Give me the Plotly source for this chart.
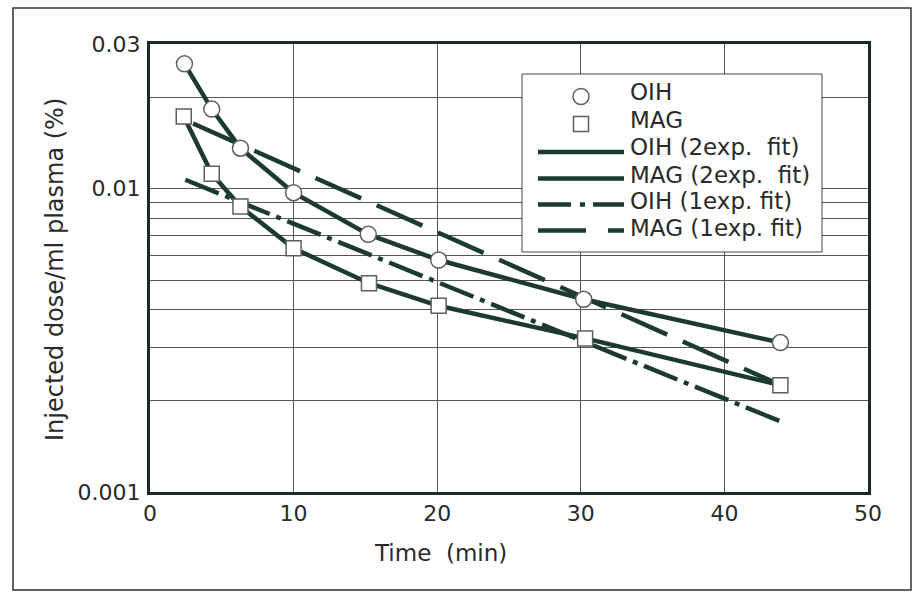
import plotly.graph_objects as go

# ---------------- data ----------------
time_oih = [2.4, 4.3, 6.3, 10.0, 15.2, 20.1, 30.2, 43.9]
oih_values = [0.0258, 0.0183, 0.0136, 0.0097, 0.00707, 0.00582, 0.00432, 0.00311]

time_mag = [2.35, 4.3, 6.3, 10.0, 15.25, 20.1, 30.3, 43.9]
mag_values = [0.0173, 0.0112, 0.00873, 0.00636, 0.00488, 0.00411, 0.00321, 0.00225]

# two-exponential fits (follow the measured points)
oih_2exp_time = [2.4, 4.3, 6.3, 10.0, 15.2, 20.1, 30.2, 43.9]
oih_2exp_fit = [0.0258, 0.0183, 0.0136, 0.0097, 0.00707, 0.00582, 0.00432, 0.00311]
mag_2exp_time = [2.35, 4.3, 6.3, 10.0, 15.25, 20.1, 30.3, 43.9]
mag_2exp_fit = [0.0173, 0.0112, 0.00873, 0.00636, 0.00488, 0.00411, 0.00321, 0.00225]

# one-exponential fits (straight lines on the log axis)
oih_1exp_time = [2.46, 43.9]
oih_1exp_fit = [0.0107, 0.00171]
mag_1exp_time = [3.0, 43.3]
mag_1exp_fit = [0.0164, 0.00232]

x_ticks = [0, 10, 20, 30, 40, 50]
y_grid = [0.001, 0.002, 0.003, 0.004, 0.005, 0.006, 0.007, 0.008, 0.009, 0.01, 0.02, 0.03]
y_tick_text = ["0.001", "", "", "", "", "", "", "", "", "0.01", "", "0.03"]

legend_labels = ["OIH", "MAG", "OIH (2exp.\u00a0 fit)", "MAG (2exp.\u00a0 fit)",
                 "OIH (1exp. fit)", "MAG (1exp. fit)"]

# ---------------- style ----------------
LINE = "#1c3a32"
AXIS = "#1a2b25"
GRID = "#555555"
MARK_EDGE = "#5e5e5e"
TEXT = "#2a2a2a"
FONT = "DejaVu Sans"

W, H = 917, 592
L, R, T, B = 150, 49, 44, 100
PW, PH = W - L - R, H - T - B


def px(x):
    return (x - L) / PW


def py(y):
    return (T + PH - y) / PH


fig = go.Figure()

fig.add_trace(go.Scatter(x=oih_2exp_time, y=oih_2exp_fit, mode="lines",
                         line=dict(color=LINE, width=4.5), name=legend_labels[2], showlegend=False))
fig.add_trace(go.Scatter(x=mag_2exp_time, y=mag_2exp_fit, mode="lines",
                         line=dict(color=LINE, width=4.5), name=legend_labels[3], showlegend=False))
fig.add_trace(go.Scatter(x=oih_1exp_time, y=oih_1exp_fit, mode="lines",
                         line=dict(color=LINE, width=4.5, dash="36px,7px,5px,7px"),
                         name=legend_labels[4], showlegend=False))
fig.add_trace(go.Scatter(x=mag_1exp_time, y=mag_1exp_fit, mode="lines",
                         line=dict(color=LINE, width=4.5, dash="50px,17px"),
                         name=legend_labels[5], showlegend=False))
fig.add_trace(go.Scatter(x=time_oih, y=oih_values, mode="markers", name=legend_labels[0],
                         marker=dict(symbol="circle", size=16, color="white",
                                     line=dict(color=MARK_EDGE, width=1.5)), showlegend=False))
fig.add_trace(go.Scatter(x=time_mag, y=mag_values, mode="markers", name=legend_labels[1],
                         marker=dict(symbol="square", size=15, color="white",
                                     line=dict(color=MARK_EDGE, width=1.5)), showlegend=False))

shapes = []
annotations = []

# outer frame
shapes.append(dict(type="rect", xref="paper", yref="paper",
                   x0=px(13), x1=px(911), y0=py(590), y1=py(8),
                   line=dict(color="#333333", width=1.5), layer="below"))

# legend box
shapes.append(dict(type="rect", xref="paper", yref="paper",
                   x0=px(522), x1=px(822), y0=py(252), y1=py(74),
                   line=dict(color="#444444", width=1), fillcolor="white", layer="above"))
# legend markers
cx = 581
shapes.append(dict(type="circle", xref="paper", yref="paper",
                   x0=px(cx - 8), x1=px(cx + 8), y0=py(96.5 + 8), y1=py(96.5 - 8),
                   line=dict(color=MARK_EDGE, width=1.5), fillcolor="white", layer="above"))
shapes.append(dict(type="rect", xref="paper", yref="paper",
                   x0=px(cx - 7.5), x1=px(cx + 7.5), y0=py(124 + 7.5), y1=py(124 - 7.5),
                   line=dict(color=MARK_EDGE, width=1.5), fillcolor="white", layer="above"))
# legend line samples
line_rows = [(152, "solid"), (178.5, "solid"), (204.5, "33px,9px,5px,8px,31px"), (230.5, "48px,22px,16px")]
for yy, d in line_rows:
    shapes.append(dict(type="line", xref="paper", yref="paper",
                       x0=px(538), x1=px(624), y0=py(yy), y1=py(yy),
                       line=dict(color=LINE, width=4.5, dash=d), layer="above"))

text_rows = [92, 119.5, 147, 174.5, 201, 228]
for lab, yy in zip(legend_labels, text_rows):
    annotations.append(dict(text=lab, xref="paper", yref="paper", x=px(628), y=py(yy),
                            xanchor="left", yanchor="middle", showarrow=False,
                            font=dict(family=FONT, size=23, color=TEXT)))

# axis titles
annotations.append(dict(text="Injected dose/ml plasma (%)", xref="paper", yref="paper",
                        x=px(55), y=py(270), textangle=-90, showarrow=False,
                        xanchor="center", yanchor="middle",
                        font=dict(family=FONT, size=24, color=TEXT)))
annotations.append(dict(text="Time\u00a0 (min)", xref="paper", yref="paper",
                        x=px(440), y=py(553), showarrow=False,
                        xanchor="center", yanchor="middle",
                        font=dict(family=FONT, size=23, color=TEXT)))

fig.update_layout(
    width=W, height=H,
    margin=dict(l=L, r=R, t=T, b=B),
    paper_bgcolor="white", plot_bgcolor="white",
    font=dict(family=FONT, size=22, color=TEXT),
    shapes=shapes, annotations=annotations,
    showlegend=False,
)
fig.update_xaxes(range=[0, 50], tickvals=x_ticks, showgrid=True, gridcolor=GRID, gridwidth=1,
                 showline=True, linecolor=AXIS, linewidth=3, mirror=True, zeroline=False,
                 ticks="", ticklabelstandoff=0, tickfont=dict(family=FONT, size=22, color=TEXT))
fig.update_yaxes(type="log", range=[-3, 1.4771 - 3], tickvals=y_grid, ticktext=y_tick_text,
                 showgrid=True, gridcolor=GRID, gridwidth=1,
                 showline=True, linecolor=AXIS, linewidth=3, mirror=True, zeroline=False,
                 ticks="", ticklabelstandoff=2, tickfont=dict(family=FONT, size=22, color=TEXT))

fig.write_html("out.html")
